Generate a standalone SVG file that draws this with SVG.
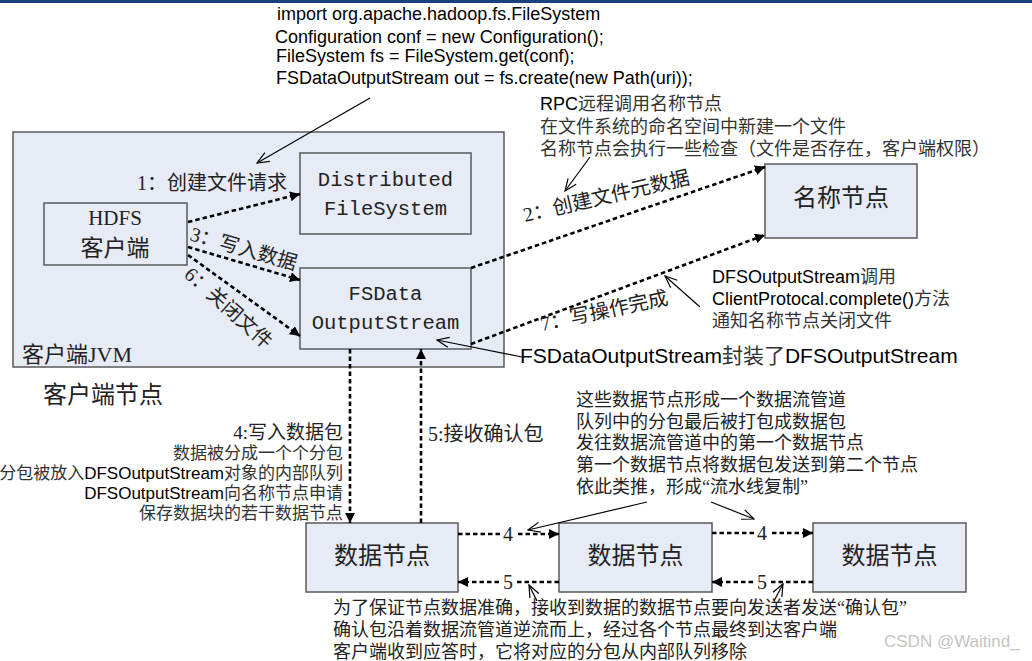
<svg xmlns="http://www.w3.org/2000/svg" width="1032" height="661" viewBox="0 0 1032 661">
  <style>
    .box { fill: #e7ebf5; stroke: #5a5a5a; stroke-width: 1.5; }
    .flow { fill: none; stroke: #000; stroke-width: 2.6; stroke-dasharray: 4.5 3; }
    .note { fill: none; stroke: #000; stroke-width: 1.2; }
    .sans { font-family: "Liberation Sans", "Noto Sans CJK SC", sans-serif; fill: #000; }
    .song { font-family: "Liberation Serif", "Noto Sans CJK SC", serif; fill: #222; }
    .mono { font-family: "Liberation Mono", "Noto Sans CJK SC", monospace; fill: #222; }
    .cjk { fill: #333; }
  </style>
  <defs>
    <marker id="tri" viewBox="0 0 10 10" refX="10" refY="5" markerWidth="10" markerHeight="10" markerUnits="userSpaceOnUse" orient="auto">
      <path d="M0,0 L10,5 L0,10 z" fill="#000"/>
    </marker>
    <marker id="open" viewBox="0 0 14 12" refX="13" refY="6" markerWidth="14" markerHeight="12" markerUnits="userSpaceOnUse" orient="auto">
      <path d="M1,1 L13,6 L1,11" fill="none" stroke="#000" stroke-width="1.2"/>
    </marker>
  </defs>

  <rect x="0" y="0" width="1032" height="661" fill="#fff"/>
  <rect x="0" y="0" width="1032" height="3" fill="#1a4080"/>

  <!-- code snippet -->
  <g id="code" class="sans" font-size="18">
    <text x="277" y="20">import org.apache.hadoop.fs.FileSystem</text>
    <text x="275" y="43">Configuration conf = new Configuration();</text>
    <text x="276" y="62">FileSystem fs = FileSystem.get(conf);</text>
    <text x="276" y="84">FSDataOutputStream out = fs.create(new Path(uri));</text>
  </g>

  <!-- client JVM container -->
  <g id="client-jvm">
    <rect class="box" x="13" y="132" width="491" height="235"/>
    <text class="song" x="22" y="362" font-size="22">客户端JVM</text>
  </g>
  <text id="client-node-label" class="song" x="43" y="403" font-size="24">客户端节点</text>

  <g id="hdfs-client">
    <rect class="box" x="44" y="203" width="143" height="62"/>
    <text class="song" x="115" y="225" font-size="21" text-anchor="middle">HDFS</text>
    <text class="song" x="115" y="256" font-size="23" text-anchor="middle">客户端</text>
  </g>

  <g id="distributed-fs">
    <rect class="box" x="300" y="153" width="171" height="81"/>
    <text class="mono" x="385.5" y="186" font-size="20.5" text-anchor="middle">Distributed</text>
    <text class="mono" x="385.5" y="215" font-size="20.5" text-anchor="middle">FileSystem</text>
  </g>

  <g id="fsdata-outputstream">
    <rect class="box" x="300" y="268" width="171" height="81"/>
    <text class="mono" x="385.5" y="300" font-size="20.5" text-anchor="middle">FSData</text>
    <text class="mono" x="385.5" y="329" font-size="20.5" text-anchor="middle">OutputStream</text>
  </g>

  <g id="namenode">
    <rect class="box" x="765" y="164" width="152" height="74"/>
    <text class="song" x="841" y="206" font-size="24" text-anchor="middle">名称节点</text>
  </g>

  <g id="datanode-1">
    <rect class="box" x="306" y="523" width="152" height="69"/>
    <text class="song" x="382" y="564" font-size="24" text-anchor="middle">数据节点</text>
  </g>
  <g id="datanode-2">
    <rect class="box" x="559" y="523" width="153" height="69"/>
    <text class="song" x="635.5" y="564" font-size="24" text-anchor="middle">数据节点</text>
  </g>
  <g id="datanode-3">
    <rect class="box" x="813" y="523" width="153" height="69"/>
    <text class="song" x="889.5" y="564" font-size="24" text-anchor="middle">数据节点</text>
  </g>

  <!-- connectors -->
  <g id="connectors">
    <line class="flow" x1="188" y1="222" x2="300" y2="194" marker-end="url(#tri)"/>
    <line class="flow" x1="188" y1="247" x2="300" y2="280" marker-end="url(#tri)"/>
    <line class="flow" x1="188" y1="255" x2="300" y2="336" marker-end="url(#tri)"/>
    <line class="flow" x1="471" y1="268" x2="765" y2="167" marker-end="url(#tri)"/>
    <line class="flow" x1="471" y1="344" x2="765" y2="235" marker-end="url(#tri)"/>
    <line class="flow" x1="350" y1="349" x2="350" y2="523" marker-end="url(#tri)"/>
    <line class="flow" x1="421" y1="523" x2="421" y2="349" marker-end="url(#tri)"/>

    <line class="flow" x1="458" y1="534" x2="559" y2="534" marker-end="url(#tri)"/>
    <line class="flow" x1="712" y1="533" x2="813" y2="533" marker-end="url(#tri)"/>
    <line class="flow" x1="559" y1="582" x2="458" y2="582" marker-end="url(#tri)"/>
    <line class="flow" x1="813" y1="582" x2="712" y2="582" marker-end="url(#tri)"/>

    <!-- hop numbers on the pipeline -->
    <g class="song" font-size="20" text-anchor="middle" fill="#222">
      <rect x="500" y="524" width="16" height="20" fill="#fff"/>
      <text x="508" y="541">4</text>
      <rect x="754" y="523" width="16" height="20" fill="#fff"/>
      <text x="762" y="540">4</text>
      <rect x="500" y="572" width="16" height="20" fill="#fff"/>
      <text x="508" y="589">5</text>
      <rect x="754" y="572" width="16" height="20" fill="#fff"/>
      <text x="762" y="589">5</text>
    </g>

    <!-- callout pointers -->
    <line class="note" x1="370" y1="98" x2="257" y2="163" marker-end="url(#open)"/>
    <line class="note" x1="590" y1="157" x2="565" y2="191" marker-end="url(#open)"/>
    <line class="note" x1="700" y1="307" x2="665" y2="276" marker-end="url(#open)"/>
    <line class="note" x1="522" y1="357" x2="437" y2="340" marker-end="url(#open)"/>
    <line class="note" x1="647" y1="502" x2="528" y2="530" marker-end="url(#open)"/>
    <line class="note" x1="711" y1="502" x2="754" y2="519" marker-end="url(#open)"/>
    <line class="note" x1="537" y1="601" x2="529" y2="585" marker-end="url(#open)"/>
    <line class="note" x1="774" y1="601" x2="783" y2="584" marker-end="url(#open)"/>
  </g>

  <!-- step labels -->
  <g id="step-labels" class="song" font-size="20">
    <text x="287" y="190" text-anchor="end">1：创建文件请求</text>
    <text transform="translate(189,240) rotate(16)">3：写入数据</text>
    <text transform="translate(183,276) rotate(42)">6：关闭文件</text>
    <text transform="translate(525,222) rotate(-13)">2：创建文件元数据</text>
    <text transform="translate(542,331) rotate(-12)">7：写操作完成</text>
    <text x="343" y="439" font-size="19" text-anchor="end">4:写入数据包</text>
    <text x="428" y="441">5:接收确认包</text>
  </g>

  <!-- notes -->
  <g id="note-rpc" class="sans" font-size="18">
    <text x="540" y="110">RPC<tspan class="cjk">远程调用名称节点</tspan></text>
    <text x="540" y="133" class="cjk">在文件系统的命名空间中新建一个文件</text>
    <text x="540" y="155" class="cjk">名称节点会执行一些检查（文件是否存在，客户端权限）</text>
  </g>

  <g id="note-complete" class="sans" font-size="18">
    <text x="712" y="283">DFSOutputStream<tspan class="cjk">调用</tspan></text>
    <text x="712" y="305">ClientProtocal.complete()<tspan class="cjk">方法</tspan></text>
    <text x="712" y="327" class="cjk">通知名称节点关闭文件</text>
  </g>

  <text id="note-wrap" class="sans" x="520" y="363" font-size="21">FSDataOutputStream<tspan class="cjk">封装了</tspan>DFSOutputStream</text>

  <g id="note-packets" class="sans" font-size="17" text-anchor="end">
    <text x="343" y="459" class="cjk">数据被分成一个个分包</text>
    <text x="343" y="479"><tspan class="cjk">分包被放入</tspan>DFSOutputStream<tspan class="cjk">对象的内部队列</tspan></text>
    <text x="343" y="499">DFSOutputStream<tspan class="cjk">向名称节点申请</tspan></text>
    <text x="343" y="519" class="cjk">保存数据块的若干数据节点</text>
  </g>

  <g id="note-pipeline" class="song" font-size="18">
    <text x="576" y="406">这些数据节点形成一个数据流管道</text>
    <text x="576" y="428">队列中的分包最后被打包成数据包</text>
    <text x="576" y="449">发往数据流管道中的第一个数据节点</text>
    <text x="576" y="471">第一个数据节点将数据包发送到第二个节点</text>
    <text x="576" y="493">依此类推，形成“流水线复制”</text>
  </g>

  <g id="note-ack" class="song" font-size="18">
    <text x="333" y="614">为了保证节点数据准确，接收到数据的数据节点要向发送者发送“确认包”</text>
    <text x="333" y="636">确认包沿着数据流管道逆流而上，经过各个节点最终到达客户端</text>
    <text x="333" y="658">客户端收到应答时，它将对应的分包从内部队列移除</text>
  </g>

  <text id="watermark" x="884" y="647" font-family="Liberation Sans, sans-serif" font-size="17" fill="#c4c4c4">CSDN @Waitind_</text>
</svg>
